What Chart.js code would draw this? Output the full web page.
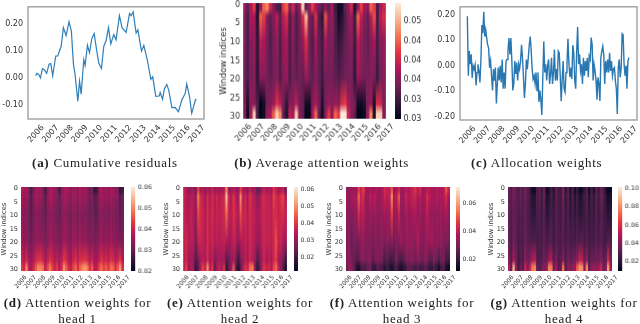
<!DOCTYPE html>
<html>
<head>
<meta charset="utf-8">
<title>Attention weights</title>
<script src="https://cdn.jsdelivr.net/npm/chart.js@4"></script>
<style>
  html, body { margin: 0; background: #fff; }
  body { position: relative; width: 640px; height: 324px; overflow: hidden; }
  canvas { position: absolute; }
  .cap { position: absolute; transform: translateX(-50%); white-space: nowrap; color: #222;
         font: 13px "Liberation Serif", serif; letter-spacing: 0.72px; text-align: center; line-height: 16px; }
  .cap b { font-weight: bold; }
</style>
</head>
<body>
<script>
// Tick labels
const yearTicks = [2006, 2007, 2008, 2009, 2010, 2011, 2012, 2013, 2014, 2015, 2016, 2017];
const windowTicks = [0, 5, 10, 15, 20, 25, 30];
const residualTicks = [-0.1, 0, 0.1, 0.2];
const allocationTicks = [-0.2, -0.1, 0, 0.1, 0.2];

// Panel a
const residualYears = [2006.00,2006.07,2006.21,2006.32,2006.46,2006.59,2006.75,2006.91,2007.03,2007.16,2007.37,2007.51,2007.74,2007.89,2008.08,2008.28,2008.44,2008.58,2008.69,2008.88,2009.00,2009.11,2009.29,2009.38,2009.54,2009.68,2009.84,2010.00,2010.18,2010.32,2010.50,2010.66,2010.82,2010.98,2011.14,2011.34,2011.50,2011.73,2011.91,2012.19,2012.42,2012.53,2012.67,2012.87,2012.99,2013.24,2013.40,2013.63,2013.88,2014.01,2014.22,2014.45,2014.52,2014.68,2014.81,2014.97,2015.11,2015.32,2015.54,2015.77,2016.00,2016.23,2016.34,2016.53,2016.68,2016.94,2017.00];
const residualValues = [.008,.017,.013,0,.034,.03,.017,.051,.053,.008,.081,.081,.117,.186,.157,.208,.172,.051,.015,-.086,-.012,-.06,.068,.046,.121,.093,.145,.164,.099,.054,.035,.117,.138,.186,.126,.16,.141,.23,.186,.168,.238,.23,.244,.166,.178,.099,.12,.069,-.005,.004,-.068,-.067,-.054,-.079,-.04,-.024,-.046,-.11,-.109,-.125,-.082,-.058,-.022,-.07,-.131,-.08,-.082];

// Panel c, sampled evenly from 2006 to 2017
const allocationValues = [.194,-.04,.057,.005,.044,-.049,-.001,-.014,.003,-.078,-.027,.005,-.021,-.066,.018,.159,.127,.211,.114,.14,.108,.082,.069,-.008,.018,-.04,-.098,-.014,-.059,-.008,-.149,-.072,-.008,-.059,-.001,-.066,.024,-.091,-.027,-.091,.018,.024,.057,.108,.044,.108,.018,-.098,-.072,.018,-.033,.012,-.059,.005,-.014,.018,.082,.031,-.046,-.127,-.072,.024,-.014,.031,.082,.114,.057,-.014,-.053,-.04,-.072,-.027,-.098,-.027,-.143,-.098,-.136,-.194,-.046,.095,-.027,.005,-.059,-.001,.024,-.072,-.033,
  .031,-.072,-.027,.063,-.059,-.014,-.059,.057,.05,-.04,-.14,-.053,.018,-.091,-.104,-.027,.012,.105,.005,-.046,-.008,-.053,.08,.05,-.059,-.091,.057,.152,.005,.044,-.021,.005,-.072,.031,-.04,.018,-.021,.031,-.046,.037,.024,.11,.082,-.059,.005,-.021,-.059,-.134,-.046,-.072,-.139,.031,.057,.076,.044,-.072,.018,-.027,.024,-.027,.05,-.021,.018,-.04,-.014,-.008,-.059,-.091,-.19,-.008,.024,-.046,-.008,.125,.121,.005,-.04,-.001,-.091,.018,.031];

// Heatmaps: six rows read at window indices 1, 3.5, 10, 20, 27, 30, values in 1/1000, four columns per year
const avgWeights = [
  [38,34,38,42, 30,37,44,46, 40,36,33,32, 42,44,36,40, 34,37,50,34, 36,42,38,35, 33,36,34,38, 32,29,29,34, 36,40,30,36, 42,38,36,44, 42,33,38,40],
  [36,33,38,38, 30,44,42,36, 34,36,39,34, 39,41,33,37, 33,35,41,49, 36,34,41,33, 31,43,36,37, 33,29,30,33, 36,37,32,44, 39,36,34,39, 43,33,39,41],
  [36,33,36,37, 31,39,38,35, 33,35,37,33, 37,38,33,36, 33,35,37,41, 35,33,38,34, 32,38,35,36, 33,31,32,34, 35,36,32,39, 37,35,34,36, 38,33,36,37],
  [35,33,35,36, 31,36,36,35, 34,35,36,33, 36,37,33,35, 34,35,34,37, 35,34,36,34, 32,35,35,35, 34,33,34,35, 35,35,31,37, 36,35,35,36, 35,32,35,36],
  [36,30,37,36, 33,28,29,35, 36,37,41,39, 35,31,36,36, 39,35,34,29, 29,36,38,35, 30,35,37,36, 37,36,41,42, 38,36,35,29, 29,30,36,37, 30,41,40,35],
  [36,29,38,50, 32,28,29,37, 38,44,50,46, 34,30,39,38, 50,36,34,28, 28,38,44,34, 29,36,42,37, 44,42,52,52, 40,36,34,28, 28,29,37,46, 30,50,50,36]
];
const head1Weights = [
  [38,36,37,33, 28,32,37,35, 36,33,27,34, 37,36,35,34, 27,34,36,37, 36,34,35,36, 34,37,35,36, 34,31,32,25, 26,34,37,35, 36,34,37,36, 34,33,25,27],
  [37,35,36,33, 29,33,37,35, 36,33,29,34, 37,36,34,34, 30,34,36,36, 35,34,35,36, 34,36,35,35, 34,32,33,29, 30,34,36,35, 35,34,36,35, 34,33,29,31],
  [35,33,34,32, 29,32,34,33, 33,32,30,33, 34,34,33,32, 30,33,34,34, 33,32,33,34, 32,34,33,33, 32,31,32,30, 30,32,34,33, 33,32,34,33, 32,32,30,31],
  [36,34,35,33, 31,33,35,35, 35,34,32,34, 36,35,34,34, 32,34,36,35, 34,33,35,36, 34,36,35,35, 34,33,34,32, 33,34,36,34, 35,34,36,35, 34,34,32,33],
  [40,38,41,37, 35,38,41,42, 43,40,37,39, 42,40,38,39, 36,39,43,41, 38,37,40,42, 39,42,42,43, 41,38,40,36, 37,39,42,40, 41,39,42,41, 38,40,43,38],
  [43,41,50,39, 37,41,46,50, 50,48,39,44, 49,44,40,43, 38,42,51,46, 41,39,44,47, 42,47,50,52, 49,42,46,38, 39,44,48,44, 46,43,48,47, 42,46,52,42]
];
const head2Weights = [
  [36,34,30,32, 32,26,42,32, 34,30,34,32, 36,30,34,32, 32,34,50,30, 32,34,32,30, 42,32,34,30, 36,32,32,25, 27,32,36,32, 34,32,40,36, 32,34,36,27],
  [37,34,32,34, 34,29,48,38, 36,32,38,34, 38,34,38,34, 36,38,56,36, 34,40,34,32, 50,34,38,32, 40,36,34,29, 32,36,38,36, 36,34,42,38, 36,40,42,34],
  [36,34,34,36, 34,30,42,38, 37,34,38,35, 38,34,37,35, 36,38,46,36, 35,39,36,34, 43,36,38,34, 38,36,35,32, 34,36,37,36, 36,35,39,38, 36,38,39,36],
  [36,38,34,35, 34,27,36,37, 36,34,38,35, 37,34,36,34, 35,36,34,32, 34,36,34,30, 34,34,36,34, 37,36,34,31, 32,35,37,36, 36,35,38,43, 36,37,34,32],
  [35,37,31,33, 31,22,27,33, 35,33,38,33, 35,27,32,33, 31,33,22,25, 31,33,27,20, 27,31,35,33, 37,35,31,22, 27,33,37,33, 35,33,38,41, 33,31,27,20],
  [36,41,30,34, 30,18,24,34, 42,36,50,34, 40,24,34,36, 32,40,18,24, 32,44,24,16, 24,32,40,36, 46,48,32,18, 24,34,40,36, 38,34,42,46, 36,30,24,16]
];
const head3Weights = [
  [33,33,35,35, 33,47,41,47, 37,35,37,35, 37,37,35,37, 43,41,39,50, 35,37,43,35, 35,39,37,39, 41,45,39,43, 35,37,39,39, 37,35,39,37, 37,39,49,41],
  [35,33,37,37, 35,52,41,43, 35,35,39,37, 39,35,35,37, 41,39,39,56, 37,39,50,35, 35,41,37,39, 41,41,37,39, 35,37,43,39, 37,35,39,37, 37,39,43,37],
  [33,32,33,33, 33,43,38,39, 34,33,35,34, 35,33,33,34, 37,35,35,47, 35,35,41,33, 33,37,34,35, 37,37,34,36, 33,35,39,35, 34,33,35,34, 35,35,37,33],
  [30,33,27,31, 29,31,33,34, 32,31,32,30, 32,31,31,33, 30,33,31,33, 29,31,32,35, 33,33,34,35, 33,32,39,33, 31,33,35,35, 37,31,35,33, 33,31,30,29],
  [31,33,30,28, 24,26,30,32, 30,32,32,26, 30,32,30,28, 24,26,22,22, 24,30,24,22, 26,30,30,32, 32,28,32,30, 28,32,31,26, 26,30,28,24, 28,30,22,22],
  [28,34,32,26, 18,16,22,24, 24,28,28,20, 20,26,24,22, 18,22,18,16, 20,24,18,16, 18,22,26,26, 24,22,26,22, 22,26,24,20, 20,24,20,16, 22,24,16,14]
];
const head4Weights = [
  [34,28,38,32, 26,34,28,36, 30,22,12,14, 28,32,24,34, 12,16,26,18, 32,26,24,38, 20,30,16,28, 14,22,12,14, 22,30,14,28, 16,30,24,34, 28,18,10,12],
  [33,30,36,32, 28,33,28,34, 30,24,16,18, 28,30,24,33, 16,18,26,20, 31,26,25,36, 22,30,18,28, 18,24,16,18, 24,30,18,28, 20,30,25,33, 28,20,13,16],
  [32,28,34,31, 27,31,28,32, 28,24,20,21, 26,28,24,30, 20,22,26,23, 30,26,25,32, 23,28,21,27, 21,24,20,21, 24,28,21,26, 22,28,24,30, 26,23,18,20],
  [33,28,36,31, 26,30,28,33, 30,28,28,28, 26,28,27,30, 27,28,30,25, 30,28,27,31, 26,30,26,28, 26,28,30,30, 26,30,25,28, 26,30,28,31, 26,26,30,28],
  [40,30,48,36, 24,30,28,42, 34,40,50,52, 30,28,30,34, 34,44,50,30, 38,28,30,40, 28,36,32,34, 36,42,56,52, 34,44,28,34, 34,34,36,40, 30,34,58,38],
  [50,34,88,44, 26,34,32,54, 40,56,76,78, 34,30,36,40, 42,78,76,36, 46,30,34,74, 30,42,38,44, 46,70,82,80, 42,78,32,42, 44,42,46,56, 34,40,84,46]
];

// Vertical pieces of a heatmap: top and bottom pieces are flat, the rest blend two rows
const pieceEdges = [0, 1.5, 3.5, 10, 20, 27, 29.5, 31];
const pieceFrom = [0, 0, 1, 2, 3, 4, 5];
const pieceTo = [0, 1, 2, 3, 4, 5, 5];

// Colour bar ranges and ticks
const avgRange = [0.028, 0.0518], avgBarTicks = [0.028, 0.032, 0.036, 0.040, 0.044, 0.048];
const head1Range = [0.02, 0.06], head1BarTicks = [0.02, 0.03, 0.04, 0.05, 0.06];
const head2Range = [0.012, 0.0615], head2BarTicks = [0.02, 0.03, 0.04, 0.05, 0.06];
const head3Range = [0.0117, 0.0717], head3BarTicks = [0.02, 0.04, 0.06];
const head4Range = [0.009, 0.102], head4BarTicks = [0.02, 0.04, 0.06, 0.08, 0.10];

// rocket colormap
const rocketStops = [[3,5,26],[53,25,62],[112,31,87],[173,23,89],[225,51,66],[243,118,81],[246,180,143],[250,235,221]];

const TEXT_COLOR = '#333';
const FRAME_COLOR = '#999';
const LINE_COLOR = '#2f7fb8';
const TICK_COLOR = '#777';

const rocket = (t) => {
    const pos = Math.min(Math.max(t, 0), 1) * (rocketStops.length - 1);
    const i = Math.min(Math.floor(pos), rocketStops.length - 2);
    const f = pos - i;
    const c = rocketStops[i].map((v, k) => Math.round(v + (rocketStops[i + 1][k] - v) * f));
    return `rgb(${c[0]},${c[1]},${c[2]})`;
};

const addCanvas = (left, top, width, height) => {
    const canvas = document.createElement('canvas');
    canvas.width = width;
    canvas.height = height;
    canvas.style.left = left + 'px';
    canvas.style.top = top + 'px';
    canvas.style.width = width + 'px';
    canvas.style.height = height + 'px';
    document.body.appendChild(canvas);
    return canvas.getContext('2d');
};

const addCaption = (x, y, html) => {
    const div = document.createElement('div');
    div.className = 'cap';
    div.style.left = x + 'px';
    div.style.top = y + 'px';
    div.innerHTML = html;
    document.body.appendChild(div);
};

// Grey frame round the line panels
const framePlugin = {
    id: 'frame',
    afterDraw(chart) {
        const { ctx, chartArea: a } = chart;
        ctx.save();
        ctx.strokeStyle = FRAME_COLOR;
        ctx.lineWidth = 1.3;
        ctx.strokeRect(a.left, a.top, a.right - a.left, a.bottom - a.top);
        ctx.restore();
    }
};

const fixedTicks = (values) => (scale) => {
    scale.ticks = values.map(value => ({ value }));
};

const yearAxis = (min, max, size, offset, tickLen) => ({
    type: 'linear',
    offset: false,
    min,
    max,
    afterBuildTicks: fixedTicks(yearTicks),
    grid: { display: false, drawTicks: true, tickLength: tickLen, tickColor: TICK_COLOR, tickWidth: 0.8 },
    border: { display: false },
    ticks: {
        autoSkip: false, minRotation: 48, maxRotation: 48, labelOffset: offset, padding: 1,
        color: TEXT_COLOR, font: { family: 'DejaVu Sans', size },
        callback: (v) => String(v)
    }
});

// box = position of the plot area in the page
const lineChart = (box, points, minY, maxY, minX, maxX, ticks) => {
    const L = 34, T = 5, R = 8, B = 40;
    const ctx = addCanvas(box.x - L, box.y - T, box.w + L + R, box.h + T + B);
    new Chart(ctx, {
        type: 'line',
        data: { datasets: [{ data: points, borderColor: box.color, borderWidth: box.lw, pointRadius: 0, tension: 0 }] },
        options: {
            responsive: false,
            animation: false,
            layout: { autoPadding: false, padding: { top: T, right: R } },
            plugins: { legend: { display: false }, tooltip: { enabled: false } },
            scales: {
                x: { ...yearAxis(minX, maxX, 8, 7, 3), afterFit: (s) => { s.height = B; } },
                y: {
                    min: minY,
                    max: maxY,
                    afterBuildTicks: fixedTicks(ticks),
                    afterFit: (s) => { s.width = L; },
                    grid: { display: false, drawTicks: true, tickLength: 3, tickColor: TICK_COLOR, tickWidth: 0.8 },
                    border: { display: false },
                    ticks: { padding: 2, color: TEXT_COLOR, font: { family: 'DejaVu Sans', size: 8 }, callback: (v) => v.toFixed(2) }
                }
            }
        },
        plugins: [framePlugin]
    });
};

const heatChart = (box, matrix, range, fonts) => {
    const L = box.left, T = 6, R = 8, B = 40;
    const ctx = addCanvas(box.x - L, box.y - T, box.w + L + R, box.h + T + B);
    const shade = (v) => rocket((v / 1000 - range[0]) / (range[1] - range[0]));
    const datasets = pieceFrom.map((from, p) => ({
        data: matrix[from].map((v, i) => ({ x: 2006 + (i + 0.5) * 0.25, y: [pieceEdges[p], pieceEdges[p + 1]] })),
        backgroundColor: (c) => {
            // scales have no pixels until the first layout is done
            if (!c.chart.chartArea || c.dataIndex === undefined) return '#000';
            const y = c.chart.scales.y;
            const y0 = y.getPixelForValue(pieceEdges[p]);
            const y1 = y.getPixelForValue(pieceEdges[p + 1]);
            if (!isFinite(y0) || !isFinite(y1)) return '#000';
            const g = c.chart.ctx.createLinearGradient(0, y0, 0, y1);
            g.addColorStop(0, shade(matrix[from][c.dataIndex]));
            g.addColorStop(1, shade(matrix[pieceTo[p]][c.dataIndex]));
            return g;
        },
        barPercentage: 1,
        categoryPercentage: 1,
        borderWidth: 0,
        grouped: false
    }));
    new Chart(ctx, {
        type: 'bar',
        data: { datasets },
        options: {
            responsive: false,
            animation: false,
            layout: { autoPadding: false, padding: { top: T, right: R } },
            plugins: { legend: { display: false }, tooltip: { enabled: false } },
            scales: {
                x: { ...yearAxis(2006, 2017, fonts.year, fonts.offset, 2), afterFit: (s) => { s.height = B; } },
                y: {
                    type: 'linear',
                    reverse: true,
                    min: 0,
                    max: 31,
                    afterBuildTicks: fixedTicks(windowTicks.map(v => v + 0.5)),
                    afterFit: (s) => { s.width = L; },
                    grid: { display: false, drawTicks: true, tickLength: 2, tickColor: TICK_COLOR, tickWidth: 0.8 },
                    border: { display: false },
                    title: { display: true, text: 'Window indices', color: TEXT_COLOR, padding: 0, font: { family: 'DejaVu Sans', size: fonts.title } },
                    ticks: { padding: 1, color: TEXT_COLOR, font: { family: 'DejaVu Sans', size: fonts.window }, callback: (v) => String(Math.floor(v)) }
                }
            }
        }
    });
};

const colorBar = (box, range, ticks, size) => {
    const T = 6, B = 6, R = 26;
    const ctx = addCanvas(box.x, box.y - T, box.w + R, box.h + T + B);
    new Chart(ctx, {
        type: 'bar',
        data: {
            labels: [''],
            datasets: [{
                data: [range],
                barPercentage: 1,
                categoryPercentage: 1,
                borderWidth: 0,
                backgroundColor: (c) => {
                    const a = c.chart.chartArea;
                    if (!a) return '#000';
                    const g = c.chart.ctx.createLinearGradient(0, a.bottom, 0, a.top);
                    rocketStops.forEach((s, i) => g.addColorStop(i / (rocketStops.length - 1), `rgb(${s[0]},${s[1]},${s[2]})`));
                    return g;
                }
            }]
        },
        options: {
            responsive: false,
            animation: false,
            layout: { autoPadding: false, padding: { top: T, bottom: B } },
            plugins: { legend: { display: false }, tooltip: { enabled: false } },
            scales: {
                x: { display: false },
                y: {
                    position: 'right',
                    min: range[0],
                    max: range[1],
                    afterBuildTicks: fixedTicks(ticks),
                    afterFit: (s) => { s.width = R; },
                    grid: { display: false, drawTicks: true, tickLength: 1.5, tickColor: TICK_COLOR, tickWidth: 0.8 },
                    border: { display: false },
                    ticks: { padding: 1, color: TEXT_COLOR, font: { family: 'DejaVu Sans', size }, callback: (v) => v.toFixed(2) }
                }
            }
        }
    });
};

const bigFonts = { year: 8, offset: 7, title: 8.6, window: 8 };
const smallFonts = { year: 6, offset: 5, title: 6.8, window: 6.5 };

// Panels
lineChart({ x: 28, y: 5, w: 176, h: 114, lw: 1.2, color: LINE_COLOR },
    residualYears.map((x, i) => ({ x, y: residualValues[i] })), -0.152, 0.263, 2005.47, 2017.52, residualTicks);
lineChart({ x: 460.3, y: 5, w: 177, h: 115, lw: 1.4, color: '#2a78b2' },
    allocationValues.map((y, i) => ({ x: 2006 + i * 11 / (allocationValues.length - 1), y })), -0.214, 0.231, 2005.5, 2017.55, allocationTicks);

heatChart({ x: 243.3, y: 3.3, w: 142.4, h: 115.7, left: 24 }, avgWeights, avgRange, bigFonts);
colorBar({ x: 395, y: 3.3, w: 6.3, h: 115.7 }, avgRange, avgBarTicks, 8);

heatChart({ x: 21, y: 187, w: 103.3, h: 84, left: 21 }, head1Weights, head1Range, smallFonts);
colorBar({ x: 131.3, y: 187, w: 4.7, h: 84 }, head1Range, head1BarTicks, 6.2);

heatChart({ x: 183.3, y: 187, w: 103.4, h: 84, left: 21 }, head2Weights, head2Range, smallFonts);
colorBar({ x: 293.7, y: 187, w: 4.7, h: 84 }, head2Range, head2BarTicks, 6.2);

heatChart({ x: 345.7, y: 187, w: 104, h: 84, left: 21 }, head3Weights, head3Range, smallFonts);
colorBar({ x: 456, y: 187, w: 4.2, h: 84 }, head3Range, head3BarTicks, 6.2);

heatChart({ x: 508, y: 187, w: 104, h: 84, left: 21 }, head4Weights, head4Range, smallFonts);
colorBar({ x: 618.3, y: 187, w: 4.4, h: 84 }, head4Range, head4BarTicks, 6.2);

// Captions
addCaption(105, 155, '<b>(a)</b> Cumulative residuals');
addCaption(321.7, 155, '<b>(b)</b> Average attention weights');
addCaption(536.7, 155, '<b>(c)</b> Allocation weights');
addCaption(77.5, 295, '<b>(d)</b> Attention weights for<br>head 1');
addCaption(240, 295, '<b>(e)</b> Attention weights for<br>head 2');
addCaption(402, 295, '<b>(f)</b> Attention weights for<br>head 3');
addCaption(564, 295, '<b>(g)</b> Attention weights for<br>head 4');
</script>
</body>
</html>
